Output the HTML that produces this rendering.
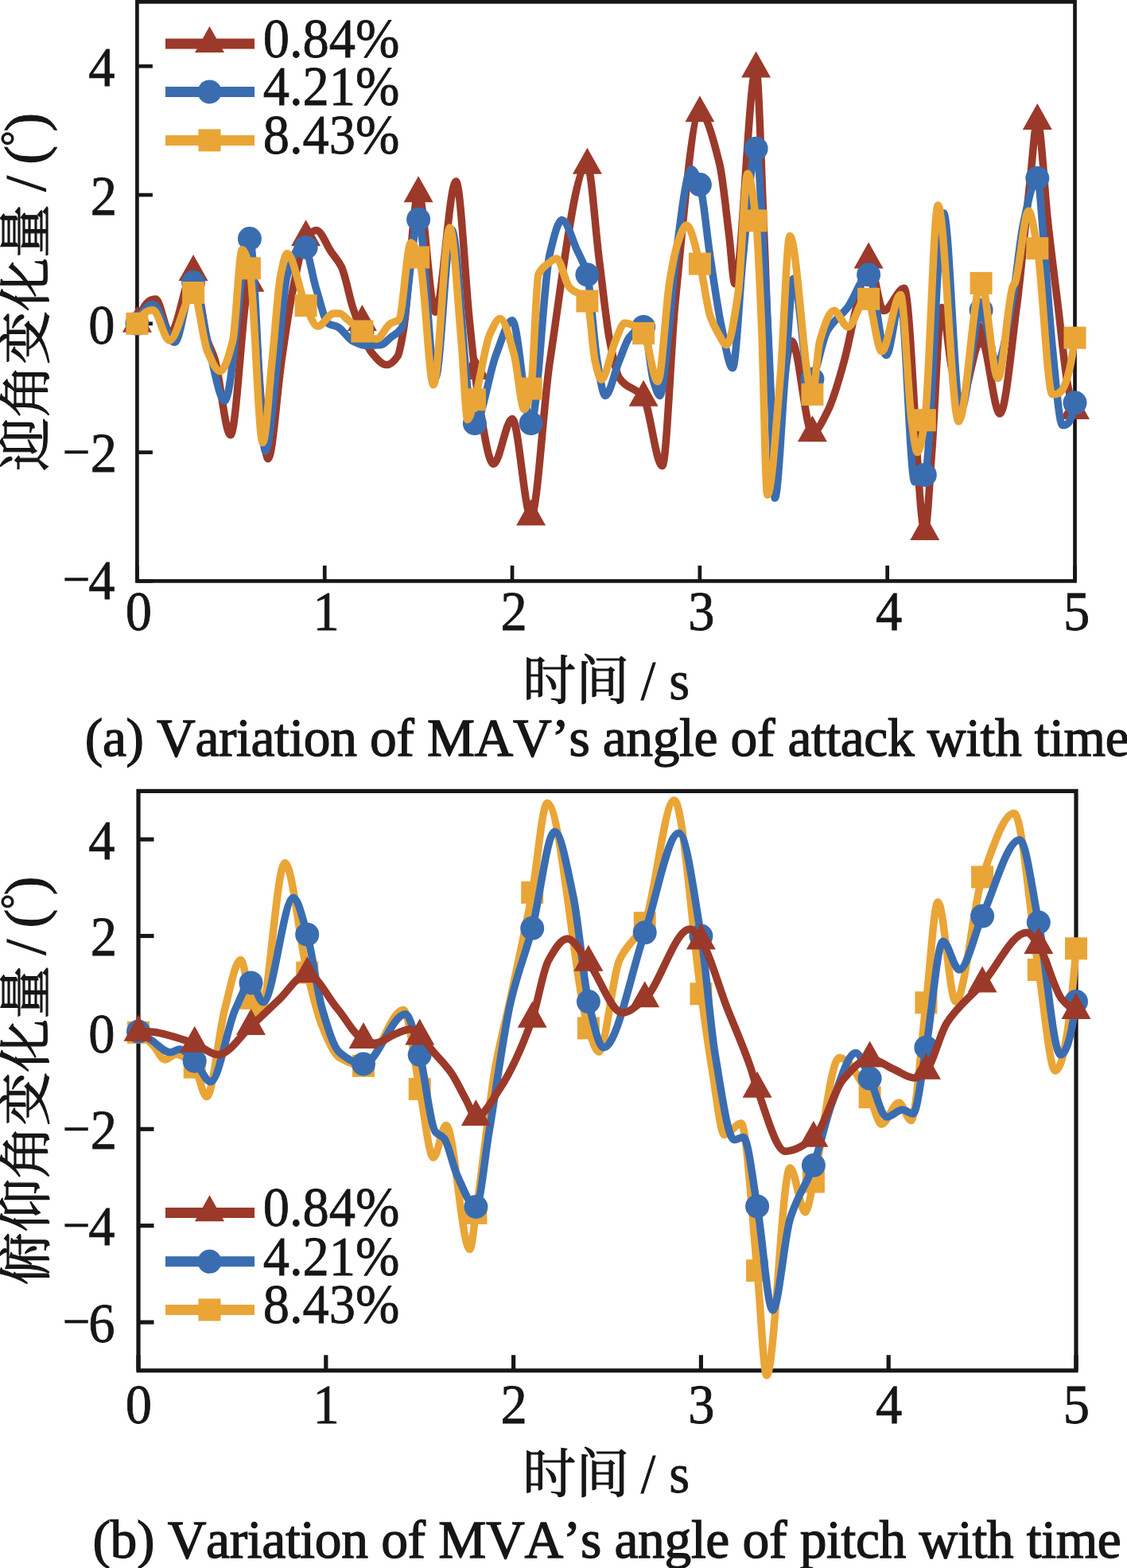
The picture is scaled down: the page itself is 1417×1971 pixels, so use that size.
<!DOCTYPE html><html><head><meta charset="utf-8"><style>html,body{margin:0;padding:0;background:#fff;} text{font-kerning:none} svg{display:block} .num{font-family:"Liberation Serif", "Noto Serif CJK SC", serif;font-size:68px;fill:#161616;stroke:#161616;stroke-width:0.8px} .cjk{font-family:"Liberation Serif", "Noto Serif CJK SC", serif;fill:#161616;stroke:#161616;stroke-width:1.2px} .lat{font-family:"Liberation Serif", serif;fill:#161616;stroke:#161616;stroke-width:1.1px} .cap{font-family:"Liberation Serif", "Noto Serif CJK SC", serif;font-size:68px;fill:#161616;stroke:#161616;stroke-width:1.3px}</style></head><body>
<svg width="1417" height="1971" viewBox="0 0 1417 1971">
<rect width="1417" height="1971" fill="#fff"/>
<rect x="172.4" y="2.35" width="1179.1" height="728.05" fill="none" stroke="#171717" stroke-width="4.7"/>
<line x1="172.4" y1="83.24" x2="191.9" y2="83.24" stroke="#171717" stroke-width="4.7"/>
<text transform="translate(144.50,107.94) scale(0.95,1)" text-anchor="end" class="num" style="font-size:70px">4</text>
<line x1="172.4" y1="245.03" x2="191.9" y2="245.03" stroke="#171717" stroke-width="4.7"/>
<text transform="translate(147.00,269.73) scale(0.95,1)" text-anchor="end" class="num" style="font-size:70px">2</text>
<line x1="172.4" y1="406.82" x2="191.9" y2="406.82" stroke="#171717" stroke-width="4.7"/>
<text transform="translate(144.50,431.52) scale(0.95,1)" text-anchor="end" class="num" style="font-size:70px">0</text>
<line x1="172.4" y1="568.61" x2="191.9" y2="568.61" stroke="#171717" stroke-width="4.7"/>
<text transform="translate(147.00,593.31) scale(0.95,1)" text-anchor="end" class="num" style="font-size:70px">2</text>
<text transform="translate(78.2,591.81) scale(0.88,1)" class="num" style="font-size:71px;stroke-width:0.3px">−</text>
<line x1="172.4" y1="730.40" x2="191.9" y2="730.40" stroke="#171717" stroke-width="4.7"/>
<text transform="translate(144.50,753.00) scale(0.95,1)" text-anchor="end" class="num" style="font-size:70px">4</text>
<text transform="translate(78.2,751.50) scale(0.88,1)" class="num" style="font-size:71px;stroke-width:0.3px">−</text>
<line x1="172.40" y1="730.4" x2="172.40" y2="710.9" stroke="#171717" stroke-width="4.7"/>
<text transform="translate(174.40,791.90) scale(0.95,1)" text-anchor="middle" class="num" style="font-size:70px">0</text>
<line x1="408.22" y1="730.4" x2="408.22" y2="710.9" stroke="#171717" stroke-width="4.7"/>
<text transform="translate(410.22,791.90) scale(0.95,1)" text-anchor="middle" class="num" style="font-size:70px">1</text>
<line x1="644.04" y1="730.4" x2="644.04" y2="710.9" stroke="#171717" stroke-width="4.7"/>
<text transform="translate(646.04,791.90) scale(0.95,1)" text-anchor="middle" class="num" style="font-size:70px">2</text>
<line x1="879.86" y1="730.4" x2="879.86" y2="710.9" stroke="#171717" stroke-width="4.7"/>
<text transform="translate(881.86,791.90) scale(0.95,1)" text-anchor="middle" class="num" style="font-size:70px">3</text>
<line x1="1115.68" y1="730.4" x2="1115.68" y2="710.9" stroke="#171717" stroke-width="4.7"/>
<text transform="translate(1117.68,791.90) scale(0.95,1)" text-anchor="middle" class="num" style="font-size:70px">4</text>
<line x1="1351.50" y1="730.4" x2="1351.50" y2="710.9" stroke="#171717" stroke-width="4.7"/>
<text transform="translate(1353.50,791.90) scale(0.95,1)" text-anchor="middle" class="num" style="font-size:70px">5</text>
<text x="657.2" y="879" class="cjk" style="font-size:67px">时间</text>
<text transform="translate(805.80,879.00) scale(0.95,1)" text-anchor="start" class="num" style="font-size:70px">/</text>
<text transform="translate(841.20,879.00) scale(0.95,1)" text-anchor="start" class="num" style="font-size:70px">s</text>
<text x="106.8" y="950.3" class="cap" style="font-size:67.5px" textLength="1312.8" lengthAdjust="spacing">(a) Variation of MAV’s angle of attack with time</text>
<g transform="translate(55.5,592) rotate(-90)">
<text x="0" y="0" class="cjk" style="font-size:67px">迎角变化量</text>
<text x="351.2" y="0" class="lat" style="font-size:71px">/</text>
<text x="385.3" y="0" class="lat" style="font-size:71px">(</text>
<text x="408.2" y="-20.5" class="lat" style="font-size:48px">°</text>
<text x="426.5" y="0" class="lat" style="font-size:71px">)</text>
</g>
<g>
<path d="M172.4,406.8 C180.2,380.5 188.0,376.1 195.7,376.1 C201.8,376.1 207.9,419.0 213.9,419.0 C223.7,419.0 233.4,342.1 243.1,342.1 C249.0,342.1 254.9,408.8 260.8,427.9 C263.9,437.8 267.0,441.5 270.0,451.3 C276.6,472.5 283.2,546.8 289.8,546.8 C297.9,546.8 305.9,355.9 313.9,355.9 C321.6,355.9 329.3,576.7 337.0,576.7 C342.8,576.7 348.6,488.6 354.5,449.7 C359.1,418.7 363.7,385.8 368.4,363.1 C373.8,336.7 379.2,304.6 384.6,298.4 C389.0,293.5 393.3,289.5 397.6,289.5 C404.0,289.5 410.3,307.8 416.7,317.0 C421.0,323.2 425.2,326.9 429.4,335.6 C434.2,345.4 438.9,372.0 443.6,386.6 C447.5,398.8 451.5,409.7 455.4,419.0 C459.3,428.2 463.2,438.5 467.2,443.2 C473.5,450.8 479.8,458.6 486.0,458.6 C490.8,458.6 495.5,454.2 500.2,447.3 C502.5,443.8 504.9,428.6 507.3,414.9 C513.6,378.5 519.8,243.4 526.1,243.4 C533.2,243.4 540.3,392.3 547.4,392.3 C556.0,392.3 564.6,228.0 573.3,228.0 C579.1,228.0 584.9,352.9 590.7,407.6 C594.1,439.4 597.5,476.0 600.9,496.6 C607.4,536.4 613.9,583.2 620.5,583.2 C628.3,583.2 636.2,526.5 644.0,526.5 C651.9,526.5 659.8,649.5 667.6,649.5 C675.5,649.5 683.3,507.0 691.2,455.4 C706.9,352.0 722.6,207.8 738.4,207.8 C743.4,207.8 748.4,288.4 753.5,327.5 C757.9,361.8 762.3,406.0 766.7,428.7 C770.6,448.9 774.5,468.9 778.5,474.8 C788.7,490.1 798.9,485.8 809.1,499.9 C817.0,510.6 824.8,585.6 832.7,585.6 C838.2,585.6 843.7,431.5 849.2,377.7 C859.4,277.8 869.6,142.3 879.9,142.3 C888.2,142.3 896.5,173.0 904.9,207.0 C908.8,223.1 912.7,263.9 916.6,295.2 C919.1,314.6 921.5,356.7 924.0,356.7 C932.8,356.7 941.7,86.5 950.6,86.5 C954.0,86.5 957.4,220.8 960.7,295.2 C963.7,359.2 966.6,481.7 969.5,500.7 C971.8,516.0 974.2,528.2 976.5,528.2 C982.8,528.2 989.1,428.7 995.4,428.7 C1004.1,428.7 1012.7,544.3 1021.4,544.3 C1027.6,544.3 1033.9,529.7 1040.2,517.6 C1047.3,504.1 1054.4,479.5 1061.4,453.7 C1066.2,436.6 1070.9,410.2 1075.6,390.6 C1081.1,367.8 1086.6,326.7 1092.1,326.7 C1098.4,326.7 1104.7,390.6 1111.0,390.6 C1119.6,390.6 1128.3,362.3 1136.9,362.3 C1145.6,362.3 1154.2,668.1 1162.8,668.1 C1165.8,668.1 1168.7,605.5 1171.6,568.6 C1175.7,515.7 1179.9,386.6 1184.1,386.6 C1188.4,386.6 1192.7,445.5 1197.0,465.1 C1200.6,481.1 1204.1,503.9 1207.6,503.9 C1216.3,503.9 1224.9,426.2 1233.6,426.2 C1241.5,426.2 1249.3,520.1 1257.2,520.1 C1264.2,520.1 1271.3,439.1 1278.4,385.0 C1283.9,342.9 1289.4,277.7 1294.9,229.7 C1298.0,202.2 1301.2,152.0 1304.3,152.0 C1308.8,152.0 1313.3,241.6 1317.8,281.4 C1321.9,318.5 1326.1,351.2 1330.3,385.0 C1334.6,420.0 1338.9,467.6 1343.2,487.7 C1346.0,500.5 1348.7,511.4 1351.5,516.0" fill="none" stroke="#9b3a2a" stroke-width="9.5" stroke-linejoin="round" stroke-linecap="round"/>
<path d="M172.4,384.7 L190.9,417.7 L153.9,417.7Z" fill="#9b3a2a"/>
<path d="M243.1,320.0 L261.6,353.0 L224.6,353.0Z" fill="#9b3a2a"/>
<path d="M313.9,333.7 L332.4,366.7 L295.4,366.7Z" fill="#9b3a2a"/>
<path d="M384.6,276.3 L403.1,309.3 L366.1,309.3Z" fill="#9b3a2a"/>
<path d="M455.4,383.1 L473.9,416.1 L436.9,416.1Z" fill="#9b3a2a"/>
<path d="M526.1,221.3 L544.6,254.3 L507.6,254.3Z" fill="#9b3a2a"/>
<path d="M596.9,443.9 L615.4,476.9 L578.4,476.9Z" fill="#9b3a2a"/>
<path d="M667.6,627.4 L686.1,660.4 L649.1,660.4Z" fill="#9b3a2a"/>
<path d="M738.4,185.7 L756.9,218.7 L719.9,218.7Z" fill="#9b3a2a"/>
<path d="M809.1,477.7 L827.6,510.7 L790.6,510.7Z" fill="#9b3a2a"/>
<path d="M879.9,120.2 L898.4,153.2 L861.4,153.2Z" fill="#9b3a2a"/>
<path d="M950.6,64.4 L969.1,97.4 L932.1,97.4Z" fill="#9b3a2a"/>
<path d="M1021.4,522.2 L1039.9,555.2 L1002.9,555.2Z" fill="#9b3a2a"/>
<path d="M1092.1,304.6 L1110.6,337.6 L1073.6,337.6Z" fill="#9b3a2a"/>
<path d="M1162.8,646.0 L1181.3,679.0 L1144.3,679.0Z" fill="#9b3a2a"/>
<path d="M1233.6,404.1 L1252.1,437.1 L1215.1,437.1Z" fill="#9b3a2a"/>
<path d="M1304.3,129.9 L1322.8,162.9 L1285.8,162.9Z" fill="#9b3a2a"/>
<path d="M1351.5,493.9 L1370.0,526.9 L1333.0,526.9Z" fill="#9b3a2a"/>
</g>
<g>
<path d="M172.4,406.8 C179.1,390.3 185.8,382.6 192.4,382.6 C201.5,382.6 210.5,430.3 219.6,430.3 C227.4,430.3 235.3,355.0 243.1,355.0 C249.8,355.0 256.5,415.2 263.2,440.0 C269.6,463.9 276.1,503.9 282.5,503.9 C293.0,503.9 303.4,300.0 313.9,300.0 C320.5,300.0 327.1,567.0 333.7,567.0 C338.9,567.0 344.1,491.9 349.3,449.7 C353.2,417.7 357.1,359.5 361.1,346.2 C367.8,323.3 374.6,306.5 381.3,306.5 C386.8,306.5 392.2,346.2 397.6,363.1 C402.7,379.1 407.8,403.8 412.9,406.8 C416.9,409.1 420.8,409.0 424.7,410.9 C431.0,413.9 437.3,425.5 443.6,428.7 C449.1,431.4 454.6,434.3 460.1,434.3 C466.4,434.3 472.7,434.1 479.0,433.5 C482.9,433.2 486.8,427.8 490.8,424.6 C495.5,420.8 500.2,419.3 504.9,412.5 C512.0,402.3 519.1,275.8 526.1,275.8 C533.2,275.8 540.3,474.8 547.4,474.8 C554.2,474.8 561.0,288.7 567.9,288.7 C575.5,288.7 583.1,472.0 590.7,509.6 C592.8,519.6 594.8,532.2 596.9,532.2 C605.8,532.2 614.8,468.3 623.8,445.7 C630.5,428.6 637.3,402.8 644.0,402.8 C651.9,402.8 659.8,532.2 667.6,532.2 C675.5,532.2 683.3,351.8 691.2,319.5 C696.3,298.4 701.4,276.6 706.5,276.6 C712.9,276.6 719.3,300.6 725.6,314.6 C729.9,323.9 734.1,329.3 738.4,345.3 C742.5,361.1 746.7,430.0 750.9,453.7 C754.2,473.0 757.6,497.4 761.0,497.4 C766.8,497.4 772.6,467.7 778.5,453.7 C782.8,443.4 787.1,428.7 791.4,423.8 C797.3,417.1 803.2,410.9 809.1,410.9 C813.4,410.9 817.6,466.4 821.8,479.6 C824.4,487.7 827.0,497.4 829.6,497.4 C833.8,497.4 838.0,441.0 842.1,403.6 C844.5,382.4 846.8,346.0 849.2,327.5 C856.0,274.8 862.7,212.7 869.5,212.7 C872.9,212.7 876.4,222.1 879.9,232.1 C884.3,244.8 888.7,295.6 893.1,324.3 C897.9,356.0 902.8,391.1 907.7,413.3 C912.2,433.7 916.6,462.6 921.1,462.6 C925.5,462.6 929.8,365.0 934.1,324.3 C939.6,272.6 945.1,186.8 950.6,186.8 C954.0,186.8 957.4,269.2 960.7,324.3 C963.7,371.8 966.6,433.0 969.5,500.7 C971.0,537.3 972.6,626.0 974.2,626.0 C978.5,626.0 982.8,522.0 987.2,471.5 C990.7,430.3 994.2,350.2 997.8,350.2 C1004.5,350.2 1011.3,479.6 1018.1,479.6 C1025.4,479.6 1032.8,428.0 1040.2,415.7 C1048.9,401.3 1057.5,397.3 1066.2,385.8 C1074.8,374.3 1083.5,345.3 1092.1,345.3 C1099.5,345.3 1106.9,446.5 1114.3,446.5 C1120.2,446.5 1126.2,377.7 1132.2,377.7 C1138.2,377.7 1144.1,605.8 1150.1,605.8 C1154.4,605.8 1158.6,602.1 1162.8,596.9 C1170.7,587.3 1178.6,267.7 1186.4,267.7 C1193.5,267.7 1200.6,516.8 1207.6,516.8 C1216.3,516.8 1224.9,389.8 1233.6,389.8 C1240.2,389.8 1246.8,457.0 1253.4,457.0 C1260.2,457.0 1266.9,408.1 1273.7,372.0 C1278.0,349.0 1282.3,301.0 1286.6,281.4 C1292.5,254.8 1298.4,224.0 1304.3,224.0 C1307.1,224.0 1309.8,277.0 1312.6,307.3 C1316.1,346.2 1319.7,403.2 1323.2,436.8 C1327.4,477.1 1331.7,534.6 1335.9,534.6 C1341.1,534.6 1346.3,534.6 1351.5,506.3" fill="none" stroke="#3a6db0" stroke-width="9.5" stroke-linejoin="round" stroke-linecap="round"/>
<circle cx="172.4" cy="406.8" r="15" fill="#3a6db0"/>
<circle cx="243.1" cy="355.0" r="15" fill="#3a6db0"/>
<circle cx="313.9" cy="300.0" r="15" fill="#3a6db0"/>
<circle cx="384.6" cy="310.9" r="15" fill="#3a6db0"/>
<circle cx="455.4" cy="417.3" r="15" fill="#3a6db0"/>
<circle cx="526.1" cy="275.8" r="15" fill="#3a6db0"/>
<circle cx="596.9" cy="532.2" r="15" fill="#3a6db0"/>
<circle cx="667.6" cy="532.2" r="15" fill="#3a6db0"/>
<circle cx="738.4" cy="345.3" r="15" fill="#3a6db0"/>
<circle cx="809.1" cy="410.9" r="15" fill="#3a6db0"/>
<circle cx="879.9" cy="232.1" r="15" fill="#3a6db0"/>
<circle cx="950.6" cy="186.8" r="15" fill="#3a6db0"/>
<circle cx="1021.4" cy="476.5" r="15" fill="#3a6db0"/>
<circle cx="1092.1" cy="345.3" r="15" fill="#3a6db0"/>
<circle cx="1162.8" cy="596.9" r="15" fill="#3a6db0"/>
<circle cx="1233.6" cy="389.8" r="15" fill="#3a6db0"/>
<circle cx="1304.3" cy="224.0" r="15" fill="#3a6db0"/>
<circle cx="1351.5" cy="506.3" r="15" fill="#3a6db0"/>
</g>
<g>
<path d="M172.4,406.8 C179.1,392.2 185.8,389.8 192.4,389.8 C199.3,389.8 206.1,427.9 213.0,427.9 C223.0,427.9 233.1,368.0 243.1,368.0 C249.0,368.0 254.9,428.3 260.8,441.6 C266.2,453.7 271.5,466.7 276.9,466.7 C282.1,466.7 287.4,449.1 292.7,427.9 C296.6,412.0 300.5,313.8 304.5,313.8 C307.6,313.8 310.7,324.9 313.9,337.3 C319.4,359.0 324.9,556.5 330.4,556.5 C334.4,556.5 338.4,487.4 342.4,449.7 C345.9,417.1 349.3,363.1 352.8,346.2 C355.6,332.7 358.3,318.6 361.1,318.6 C368.7,318.6 376.3,366.1 383.9,382.6 C389.0,393.6 394.1,410.1 399.3,410.1 C406.2,410.1 413.1,393.9 420.0,393.9 C422.4,393.9 424.7,393.9 427.1,393.9 C430.2,393.9 433.4,398.7 436.5,401.2 C442.8,406.1 449.1,412.4 455.4,416.5 C461.3,420.4 467.2,426.2 473.1,426.2 C479.0,426.2 484.9,410.5 490.8,406.8 C494.3,404.6 497.8,404.8 501.4,402.0 C506.5,397.8 511.6,304.9 516.7,304.9 C520.6,304.9 524.6,317.8 528.5,331.6 C534.0,350.9 539.5,483.7 545.0,483.7 C551.8,483.7 558.7,286.3 565.5,286.3 C570.5,286.3 575.4,378.2 580.4,433.5 C582.9,461.6 585.4,527.4 587.9,527.4 C590.9,527.4 593.9,512.2 596.9,502.3 C603.2,481.4 609.5,434.6 615.7,420.6 C620.1,410.9 624.4,400.4 628.7,400.4 C634.6,400.4 640.5,424.8 646.4,445.7 C650.6,460.7 654.9,514.4 659.1,514.4 C662.0,514.4 664.8,502.7 667.6,488.5 C670.8,472.7 673.9,351.2 677.1,344.5 C681.0,336.2 684.9,334.6 688.8,331.6 C692.5,328.8 696.2,325.1 699.9,325.1 C705.1,325.1 710.3,354.5 715.5,360.7 C723.1,369.9 730.7,366.4 738.4,378.5 C741.7,383.7 745.0,440.9 748.3,454.5 C750.9,465.3 753.5,477.2 756.1,477.2 C761.9,477.2 767.8,441.8 773.7,428.7 C777.7,419.9 781.6,406.0 785.5,406.0 C793.4,406.0 801.3,411.3 809.1,419.0 C815.1,424.8 821.1,479.6 827.0,479.6 C832.1,479.6 837.1,382.8 842.1,352.6 C845.3,333.8 848.4,316.5 851.6,307.3 C855.5,295.8 859.4,283.1 863.4,283.1 C868.9,283.1 874.4,311.0 879.9,331.6 C884.3,348.1 888.7,385.0 893.1,397.9 C896.4,407.6 899.7,413.4 903.0,419.0 C906.5,424.9 910.0,433.5 913.6,433.5 C918.4,433.5 923.2,401.0 928.0,368.8 C932.0,341.9 936.0,218.3 940.0,218.3 C943.5,218.3 947.1,245.7 950.6,277.4 C953.0,298.5 955.3,358.4 957.7,413.3 C960.0,468.2 962.4,622.0 964.8,622.0 C970.3,622.0 975.8,534.5 981.3,471.5 C985.2,426.6 989.1,296.8 993.1,296.8 C1002.5,296.8 1011.9,495.8 1021.4,495.8 C1024.5,495.8 1027.6,439.6 1030.8,428.7 C1036.7,408.1 1042.6,390.6 1048.5,390.6 C1054.4,390.6 1060.3,410.9 1066.2,410.9 C1074.0,410.9 1081.9,372.8 1089.7,372.8 C1096.0,372.8 1102.3,441.6 1108.6,441.6 C1116.5,441.6 1124.3,370.4 1132.2,370.4 C1136.9,370.4 1141.6,496.3 1146.3,529.8 C1148.7,546.5 1151.1,568.6 1153.4,568.6 C1156.6,568.6 1159.7,548.5 1162.8,528.2 C1168.3,492.7 1173.8,258.0 1179.4,258.0 C1188.0,258.0 1196.6,529.8 1205.3,529.8 C1214.7,529.8 1224.2,355.9 1233.6,355.9 C1240.7,355.9 1247.7,475.6 1254.8,475.6 C1261.1,475.6 1267.4,371.2 1273.7,359.1 C1274.5,357.6 1275.3,357.3 1276.0,355.9 C1281.8,345.0 1287.5,265.3 1293.3,265.3 C1296.9,265.3 1300.6,291.1 1304.3,312.2 C1310.6,348.1 1316.9,495.8 1323.2,495.8 C1332.6,495.8 1342.1,495.8 1351.5,424.6" fill="none" stroke="#eaa537" stroke-width="9.5" stroke-linejoin="round" stroke-linecap="round"/>
<rect x="158.4" y="392.8" width="28" height="28" fill="#eaa537"/>
<rect x="229.1" y="354.0" width="28" height="28" fill="#eaa537"/>
<rect x="299.9" y="323.3" width="28" height="28" fill="#eaa537"/>
<rect x="370.6" y="370.1" width="28" height="28" fill="#eaa537"/>
<rect x="441.4" y="402.5" width="28" height="28" fill="#eaa537"/>
<rect x="512.1" y="309.5" width="28" height="28" fill="#eaa537"/>
<rect x="582.9" y="488.3" width="28" height="28" fill="#eaa537"/>
<rect x="653.6" y="474.5" width="28" height="28" fill="#eaa537"/>
<rect x="724.4" y="364.5" width="28" height="28" fill="#eaa537"/>
<rect x="795.1" y="405.0" width="28" height="28" fill="#eaa537"/>
<rect x="865.9" y="317.6" width="28" height="28" fill="#eaa537"/>
<rect x="936.6" y="263.4" width="28" height="28" fill="#eaa537"/>
<rect x="1007.4" y="481.8" width="28" height="28" fill="#eaa537"/>
<rect x="1078.1" y="361.8" width="28" height="28" fill="#eaa537"/>
<rect x="1148.8" y="514.2" width="28" height="28" fill="#eaa537"/>
<rect x="1219.6" y="341.9" width="28" height="28" fill="#eaa537"/>
<rect x="1290.3" y="298.2" width="28" height="28" fill="#eaa537"/>
<rect x="1337.5" y="410.6" width="28" height="28" fill="#eaa537"/>
</g>
<line x1="208" y1="55.1" x2="320" y2="55.1" stroke="#9b3a2a" stroke-width="13"/>
<path d="M263.5,33.0 L282.0,66.0 L245.0,66.0Z" fill="#9b3a2a"/>
<text transform="translate(330.70,72.10) scale(0.95,1)" text-anchor="start" class="num" style="font-size:70px">0.84%</text>
<line x1="208" y1="115.4" x2="320" y2="115.4" stroke="#3a6db0" stroke-width="13"/>
<circle cx="263.5" cy="115.4" r="15" fill="#3a6db0"/>
<text transform="translate(330.70,132.40) scale(0.95,1)" text-anchor="start" class="num" style="font-size:70px">4.21%</text>
<line x1="208" y1="176.4" x2="320" y2="176.4" stroke="#eaa537" stroke-width="13"/>
<rect x="249.5" y="162.4" width="28" height="28" fill="#eaa537"/>
<text transform="translate(330.70,193.40) scale(0.95,1)" text-anchor="start" class="num" style="font-size:70px">8.43%</text>
<rect x="174.0" y="994.4" width="1179.0" height="728.4" fill="none" stroke="#171717" stroke-width="5.2"/>
<line x1="174.0" y1="1055.10" x2="193.5" y2="1055.10" stroke="#171717" stroke-width="5.2"/>
<text transform="translate(144.50,1079.80) scale(0.95,1)" text-anchor="end" class="num" style="font-size:70px">4</text>
<line x1="174.0" y1="1176.50" x2="193.5" y2="1176.50" stroke="#171717" stroke-width="5.2"/>
<text transform="translate(147.00,1201.20) scale(0.95,1)" text-anchor="end" class="num" style="font-size:70px">2</text>
<line x1="174.0" y1="1297.90" x2="193.5" y2="1297.90" stroke="#171717" stroke-width="5.2"/>
<text transform="translate(144.50,1322.60) scale(0.95,1)" text-anchor="end" class="num" style="font-size:70px">0</text>
<line x1="174.0" y1="1419.30" x2="193.5" y2="1419.30" stroke="#171717" stroke-width="5.2"/>
<text transform="translate(147.00,1444.00) scale(0.95,1)" text-anchor="end" class="num" style="font-size:70px">2</text>
<text transform="translate(78.2,1442.50) scale(0.88,1)" class="num" style="font-size:71px;stroke-width:0.3px">−</text>
<line x1="174.0" y1="1540.70" x2="193.5" y2="1540.70" stroke="#171717" stroke-width="5.2"/>
<text transform="translate(144.50,1565.40) scale(0.95,1)" text-anchor="end" class="num" style="font-size:70px">4</text>
<text transform="translate(78.2,1563.90) scale(0.88,1)" class="num" style="font-size:71px;stroke-width:0.3px">−</text>
<line x1="174.0" y1="1662.10" x2="193.5" y2="1662.10" stroke="#171717" stroke-width="5.2"/>
<text transform="translate(144.50,1686.80) scale(0.95,1)" text-anchor="end" class="num" style="font-size:70px">6</text>
<text transform="translate(78.2,1685.30) scale(0.88,1)" class="num" style="font-size:71px;stroke-width:0.3px">−</text>
<line x1="174.00" y1="1722.8" x2="174.00" y2="1703.3" stroke="#171717" stroke-width="5.2"/>
<text transform="translate(174.40,1788.60) scale(0.95,1)" text-anchor="middle" class="num" style="font-size:70px">0</text>
<line x1="409.80" y1="1722.8" x2="409.80" y2="1703.3" stroke="#171717" stroke-width="5.2"/>
<text transform="translate(410.20,1788.60) scale(0.95,1)" text-anchor="middle" class="num" style="font-size:70px">1</text>
<line x1="645.60" y1="1722.8" x2="645.60" y2="1703.3" stroke="#171717" stroke-width="5.2"/>
<text transform="translate(646.00,1788.60) scale(0.95,1)" text-anchor="middle" class="num" style="font-size:70px">2</text>
<line x1="881.40" y1="1722.8" x2="881.40" y2="1703.3" stroke="#171717" stroke-width="5.2"/>
<text transform="translate(881.80,1788.60) scale(0.95,1)" text-anchor="middle" class="num" style="font-size:70px">3</text>
<line x1="1117.20" y1="1722.8" x2="1117.20" y2="1703.3" stroke="#171717" stroke-width="5.2"/>
<text transform="translate(1117.60,1788.60) scale(0.95,1)" text-anchor="middle" class="num" style="font-size:70px">4</text>
<line x1="1353.00" y1="1722.8" x2="1353.00" y2="1703.3" stroke="#171717" stroke-width="5.2"/>
<text transform="translate(1353.40,1788.60) scale(0.95,1)" text-anchor="middle" class="num" style="font-size:70px">5</text>
<text x="657.2" y="1876.3" class="cjk" style="font-size:67px">时间</text>
<text transform="translate(805.80,1876.30) scale(0.95,1)" text-anchor="start" class="num" style="font-size:70px">/</text>
<text transform="translate(841.20,1876.30) scale(0.95,1)" text-anchor="start" class="num" style="font-size:70px">s</text>
<text x="116.4" y="1957.5" class="cap" style="font-size:67.5px" textLength="1293.4" lengthAdjust="spacing">(b) Variation of MVA’s angle of pitch with time</text>
<g transform="translate(55.5,1615.7) rotate(-90)">
<text x="0" y="0" class="cjk" style="font-size:67px">俯仰角变化量</text>
<text x="415.1" y="0" class="lat" style="font-size:71px">/</text>
<text x="449.2" y="0" class="lat" style="font-size:71px">(</text>
<text x="472.7" y="-20.5" class="lat" style="font-size:48px">°</text>
<text x="490.4" y="0" class="lat" style="font-size:71px">)</text>
</g>
<g>
<path d="M174.0,1297.9 C180.3,1302.1 186.6,1307.9 192.9,1314.3 C197.7,1319.2 202.5,1331.9 207.2,1331.9 C211.9,1331.9 216.5,1325.2 221.2,1325.2 C229.0,1325.2 236.9,1332.7 244.7,1341.6 C249.8,1347.3 254.8,1378.6 259.8,1378.6 C267.5,1378.6 275.1,1296.8 282.7,1268.2 C289.3,1243.4 295.9,1206.8 302.5,1206.8 C306.8,1206.8 311.2,1243.0 315.5,1254.8 C319.2,1264.9 322.9,1279.1 326.6,1279.1 C337.1,1279.1 347.6,1084.8 358.2,1084.8 C367.5,1084.8 376.9,1184.3 386.2,1222.6 C392.5,1248.4 398.8,1274.7 405.1,1290.0 C412.3,1307.6 419.5,1325.1 426.8,1329.5 C436.8,1335.5 446.9,1339.8 457.0,1339.8 C473.7,1339.8 490.4,1269.4 507.2,1269.4 C514.0,1269.4 520.9,1335.2 527.7,1368.9 C533.4,1397.2 539.2,1455.1 544.9,1455.1 C550.3,1455.1 555.6,1414.4 560.9,1414.4 C570.9,1414.4 580.8,1570.4 590.7,1570.4 C593.3,1570.4 595.8,1541.6 598.4,1524.9 C606.5,1472.8 614.6,1387.8 622.7,1342.2 C629.0,1306.8 635.3,1285.6 641.6,1256.0 C650.8,1212.8 660.0,1171.4 669.2,1121.9 C675.5,1088.0 681.8,1009.6 688.0,1009.6 C705.3,1009.6 722.6,1240.8 739.9,1292.4 C744.2,1305.3 748.6,1322.2 752.9,1322.2 C761.5,1322.2 770.0,1226.8 778.6,1207.5 C789.3,1183.3 800.0,1183.2 810.7,1160.1 C823.0,1133.5 835.3,1005.9 847.7,1005.9 C858.9,1005.9 870.2,1170.8 881.4,1249.3 C886.1,1282.3 890.8,1317.8 895.5,1345.9 C900.7,1376.3 905.8,1426.6 910.9,1426.6 C917.9,1426.6 924.9,1412.0 931.9,1412.0 C938.6,1412.0 945.4,1528.6 952.1,1597.2 C956.1,1637.0 960.0,1728.9 963.9,1728.9 C973.8,1728.9 983.6,1467.9 993.4,1467.9 C999.8,1467.9 1006.1,1523.7 1012.5,1523.7 C1016.0,1523.7 1019.4,1499.6 1022.9,1485.5 C1033.6,1441.5 1044.4,1329.5 1055.2,1329.5 C1068.0,1329.5 1080.8,1357.0 1093.6,1379.2 C1098.5,1387.7 1103.4,1413.2 1108.2,1413.2 C1115.5,1413.2 1122.9,1385.9 1130.2,1385.9 C1135.3,1385.9 1140.4,1408.4 1145.5,1408.4 C1151.8,1408.4 1158.1,1311.7 1164.4,1260.3 C1169.3,1219.8 1174.3,1134.0 1179.2,1134.0 C1186.7,1134.0 1194.1,1259.1 1201.6,1259.1 C1212.8,1259.1 1223.9,1134.1 1235.1,1102.4 C1248.5,1064.6 1261.8,1022.3 1275.2,1022.3 C1285.4,1022.3 1295.6,1155.5 1305.8,1219.0 C1312.8,1262.5 1319.8,1345.9 1326.8,1345.9 C1335.6,1345.9 1344.3,1301.2 1353.0,1192.3" fill="none" stroke="#eaa537" stroke-width="9.5" stroke-linejoin="round" stroke-linecap="round"/>
<rect x="160.0" y="1283.9" width="28" height="28" fill="#eaa537"/>
<rect x="230.7" y="1327.6" width="28" height="28" fill="#eaa537"/>
<rect x="301.5" y="1240.8" width="28" height="28" fill="#eaa537"/>
<rect x="372.2" y="1208.6" width="28" height="28" fill="#eaa537"/>
<rect x="443.0" y="1325.8" width="28" height="28" fill="#eaa537"/>
<rect x="513.7" y="1354.9" width="28" height="28" fill="#eaa537"/>
<rect x="584.4" y="1510.9" width="28" height="28" fill="#eaa537"/>
<rect x="655.2" y="1107.9" width="28" height="28" fill="#eaa537"/>
<rect x="725.9" y="1278.4" width="28" height="28" fill="#eaa537"/>
<rect x="796.7" y="1146.1" width="28" height="28" fill="#eaa537"/>
<rect x="867.4" y="1235.3" width="28" height="28" fill="#eaa537"/>
<rect x="938.1" y="1583.2" width="28" height="28" fill="#eaa537"/>
<rect x="1008.9" y="1471.5" width="28" height="28" fill="#eaa537"/>
<rect x="1079.6" y="1365.2" width="28" height="28" fill="#eaa537"/>
<rect x="1150.4" y="1246.3" width="28" height="28" fill="#eaa537"/>
<rect x="1221.1" y="1088.4" width="28" height="28" fill="#eaa537"/>
<rect x="1291.8" y="1205.0" width="28" height="28" fill="#eaa537"/>
<rect x="1339.0" y="1178.3" width="28" height="28" fill="#eaa537"/>
</g>
<g>
<path d="M174.0,1296.7 C179.5,1300.4 185.0,1304.0 190.5,1307.6 C198.4,1312.7 206.2,1322.8 214.1,1322.8 C218.0,1322.8 221.9,1319.1 225.9,1319.1 C232.2,1319.1 238.5,1327.6 244.7,1333.7 C251.4,1340.2 258.1,1359.8 264.8,1359.8 C275.2,1359.8 285.7,1290.1 296.1,1268.2 C302.6,1254.6 309.0,1235.4 315.5,1235.4 C320.6,1235.4 325.7,1259.7 330.8,1259.7 C343.5,1259.7 356.3,1128.5 369.0,1128.5 C374.7,1128.5 380.5,1154.8 386.2,1174.7 C392.5,1196.5 398.8,1247.0 405.1,1268.2 C412.3,1292.5 419.5,1316.7 426.8,1322.8 C436.8,1331.3 446.9,1337.4 457.0,1337.4 C474.6,1337.4 492.3,1274.8 510.0,1274.8 C515.9,1274.8 521.8,1304.5 527.7,1325.8 C534.3,1349.7 540.9,1415.1 547.5,1422.9 C551.1,1427.2 554.7,1426.8 558.4,1430.8 C563.7,1436.8 569.0,1464.8 574.4,1476.4 C582.4,1493.6 590.4,1517.0 598.4,1517.0 C603.9,1517.0 609.4,1455.2 614.9,1422.9 C623.8,1370.9 632.7,1300.5 641.6,1261.5 C650.8,1221.1 660.0,1201.8 669.2,1166.8 C678.6,1130.8 688.0,1045.4 697.5,1045.4 C705.3,1045.4 713.2,1091.4 721.1,1128.5 C727.3,1158.3 733.6,1232.4 739.9,1259.1 C746.2,1285.7 752.5,1316.7 758.8,1316.7 C776.1,1316.7 793.4,1221.5 810.7,1172.3 C825.0,1131.5 839.3,1047.2 853.6,1047.2 C862.9,1047.2 872.1,1119.9 881.4,1176.5 C887.4,1212.9 893.3,1291.2 899.3,1326.4 C907.3,1373.3 915.2,1432.7 923.1,1432.7 C927.0,1432.7 930.8,1429.6 934.7,1429.6 C940.5,1429.6 946.3,1483.2 952.1,1516.4 C958.6,1553.2 965.0,1646.9 971.5,1646.9 C978.8,1646.9 986.1,1555.9 993.4,1532.2 C1003.2,1500.3 1013.1,1491.8 1022.9,1464.8 C1030.7,1443.3 1038.6,1405.8 1046.5,1385.3 C1056.3,1359.7 1066.1,1323.4 1075.9,1323.4 C1081.8,1323.4 1087.7,1343.7 1093.6,1355.6 C1100.7,1369.9 1107.8,1404.1 1114.8,1404.1 C1121.4,1404.1 1128.0,1395.0 1134.6,1395.0 C1139.1,1395.0 1143.5,1399.9 1147.9,1399.9 C1153.4,1399.9 1158.9,1347.4 1164.4,1316.7 C1171.4,1277.3 1178.5,1183.2 1185.6,1183.2 C1192.4,1183.2 1199.3,1219.0 1206.1,1219.0 C1215.8,1219.0 1225.4,1172.7 1235.1,1151.6 C1250.7,1117.4 1266.4,1055.7 1282.0,1055.7 C1290.0,1055.7 1297.9,1119.5 1305.8,1159.5 C1315.0,1205.8 1324.2,1325.8 1333.4,1325.8 C1340.0,1325.8 1346.5,1306.9 1353.0,1259.1" fill="none" stroke="#3a6db0" stroke-width="9.5" stroke-linejoin="round" stroke-linecap="round"/>
<circle cx="174.0" cy="1296.7" r="15" fill="#3a6db0"/>
<circle cx="244.7" cy="1333.7" r="15" fill="#3a6db0"/>
<circle cx="315.5" cy="1235.4" r="15" fill="#3a6db0"/>
<circle cx="386.2" cy="1174.7" r="15" fill="#3a6db0"/>
<circle cx="457.0" cy="1337.4" r="15" fill="#3a6db0"/>
<circle cx="527.7" cy="1325.8" r="15" fill="#3a6db0"/>
<circle cx="598.4" cy="1517.0" r="15" fill="#3a6db0"/>
<circle cx="669.2" cy="1166.8" r="15" fill="#3a6db0"/>
<circle cx="739.9" cy="1259.1" r="15" fill="#3a6db0"/>
<circle cx="810.7" cy="1172.3" r="15" fill="#3a6db0"/>
<circle cx="881.4" cy="1176.5" r="15" fill="#3a6db0"/>
<circle cx="952.1" cy="1516.4" r="15" fill="#3a6db0"/>
<circle cx="1022.9" cy="1464.8" r="15" fill="#3a6db0"/>
<circle cx="1093.6" cy="1355.6" r="15" fill="#3a6db0"/>
<circle cx="1164.4" cy="1316.7" r="15" fill="#3a6db0"/>
<circle cx="1235.1" cy="1151.6" r="15" fill="#3a6db0"/>
<circle cx="1305.8" cy="1159.5" r="15" fill="#3a6db0"/>
<circle cx="1353.0" cy="1259.1" r="15" fill="#3a6db0"/>
</g>
<g>
<path d="M174.0,1297.9 C178.1,1297.2 182.2,1296.7 186.3,1296.7 C201.7,1296.7 217.2,1303.1 232.7,1307.6 C236.7,1308.8 240.7,1310.3 244.7,1311.9 C254.6,1315.8 264.4,1325.8 274.2,1325.8 C288.0,1325.8 301.7,1302.5 315.5,1290.0 C327.3,1279.3 339.1,1267.5 350.9,1256.6 C362.6,1245.7 374.4,1224.5 386.2,1224.5 C398.8,1224.5 411.4,1252.9 423.9,1267.5 C435.0,1280.4 446.0,1302.3 457.0,1307.0 C461.9,1309.1 466.9,1311.3 471.8,1311.3 C480.2,1311.3 488.6,1302.9 497.0,1299.7 C503.3,1297.4 509.6,1293.7 515.9,1293.7 C519.8,1293.7 523.8,1296.4 527.7,1299.1 C532.4,1302.3 537.1,1312.5 541.8,1318.5 C550.3,1329.3 558.7,1336.2 567.1,1348.3 C573.4,1357.3 579.7,1371.1 585.9,1382.3 C590.1,1389.7 594.3,1404.1 598.4,1404.1 C608.3,1404.1 618.2,1383.8 628.2,1368.9 C641.8,1348.4 655.5,1318.9 669.2,1280.9 C675.9,1262.1 682.7,1219.4 689.5,1207.5 C697.4,1193.4 705.3,1180.1 713.3,1180.1 C722.2,1180.1 731.0,1198.7 739.9,1209.9 C754.1,1227.7 768.2,1273.0 782.4,1273.0 C791.8,1273.0 801.2,1263.4 810.7,1255.4 C829.5,1239.4 848.4,1168.0 867.3,1168.0 C872.0,1168.0 876.7,1176.0 881.4,1182.6 C892.4,1197.9 903.4,1239.5 914.4,1267.5 C924.1,1292.2 933.7,1313.1 943.4,1341.0 C946.3,1349.4 949.2,1361.0 952.1,1368.9 C963.9,1401.0 975.7,1447.2 987.5,1447.2 C999.3,1447.2 1011.1,1439.6 1022.9,1430.8 C1035.5,1421.5 1048.0,1370.0 1060.6,1356.2 C1071.6,1344.1 1082.6,1330.7 1093.6,1330.7 C1103.6,1330.7 1113.6,1339.8 1123.6,1344.0 C1132.4,1347.8 1141.3,1355.0 1150.2,1355.0 C1154.9,1355.0 1159.6,1350.3 1164.4,1345.9 C1173.1,1337.5 1181.8,1299.2 1190.5,1285.8 C1205.4,1262.9 1220.2,1253.3 1235.1,1236.6 C1253.7,1215.6 1272.4,1172.3 1291.0,1172.3 C1295.9,1172.3 1300.9,1181.1 1305.8,1188.0 C1315.7,1201.9 1325.6,1245.7 1335.6,1256.6 C1341.4,1263.0 1347.2,1268.8 1353.0,1270.0" fill="none" stroke="#9b3a2a" stroke-width="9.5" stroke-linejoin="round" stroke-linecap="round"/>
<path d="M174.0,1275.8 L192.5,1308.8 L155.5,1308.8Z" fill="#9b3a2a"/>
<path d="M244.7,1289.8 L263.2,1322.8 L226.2,1322.8Z" fill="#9b3a2a"/>
<path d="M315.5,1267.9 L334.0,1300.9 L297.0,1300.9Z" fill="#9b3a2a"/>
<path d="M386.2,1202.3 L404.7,1235.3 L367.7,1235.3Z" fill="#9b3a2a"/>
<path d="M457.0,1284.9 L475.5,1317.9 L438.5,1317.9Z" fill="#9b3a2a"/>
<path d="M527.7,1280.6 L546.2,1313.6 L509.2,1313.6Z" fill="#9b3a2a"/>
<path d="M598.4,1382.0 L616.9,1415.0 L579.9,1415.0Z" fill="#9b3a2a"/>
<path d="M669.2,1258.8 L687.7,1291.8 L650.7,1291.8Z" fill="#9b3a2a"/>
<path d="M739.9,1187.8 L758.4,1220.8 L721.4,1220.8Z" fill="#9b3a2a"/>
<path d="M810.7,1233.3 L829.2,1266.3 L792.2,1266.3Z" fill="#9b3a2a"/>
<path d="M881.4,1160.5 L899.9,1193.5 L862.9,1193.5Z" fill="#9b3a2a"/>
<path d="M952.1,1346.8 L970.6,1379.8 L933.6,1379.8Z" fill="#9b3a2a"/>
<path d="M1022.9,1408.7 L1041.4,1441.7 L1004.4,1441.7Z" fill="#9b3a2a"/>
<path d="M1093.6,1308.6 L1112.1,1341.6 L1075.1,1341.6Z" fill="#9b3a2a"/>
<path d="M1164.4,1323.7 L1182.9,1356.7 L1145.9,1356.7Z" fill="#9b3a2a"/>
<path d="M1235.1,1214.5 L1253.6,1247.5 L1216.6,1247.5Z" fill="#9b3a2a"/>
<path d="M1305.8,1165.9 L1324.3,1198.9 L1287.3,1198.9Z" fill="#9b3a2a"/>
<path d="M1353.0,1247.9 L1371.5,1280.9 L1334.5,1280.9Z" fill="#9b3a2a"/>
</g>
<line x1="208" y1="1524.4" x2="320" y2="1524.4" stroke="#9b3a2a" stroke-width="13"/>
<path d="M263.5,1502.3 L282.0,1535.3 L245.0,1535.3Z" fill="#9b3a2a"/>
<text transform="translate(330.70,1541.40) scale(0.95,1)" text-anchor="start" class="num" style="font-size:70px">0.84%</text>
<line x1="208" y1="1585.8" x2="320" y2="1585.8" stroke="#3a6db0" stroke-width="13"/>
<circle cx="263.5" cy="1585.8" r="15" fill="#3a6db0"/>
<text transform="translate(330.70,1602.80) scale(0.95,1)" text-anchor="start" class="num" style="font-size:70px">4.21%</text>
<line x1="208" y1="1646.4" x2="320" y2="1646.4" stroke="#eaa537" stroke-width="13"/>
<rect x="249.5" y="1632.4" width="28" height="28" fill="#eaa537"/>
<text transform="translate(330.70,1663.40) scale(0.95,1)" text-anchor="start" class="num" style="font-size:70px">8.43%</text>
</svg></body></html>
